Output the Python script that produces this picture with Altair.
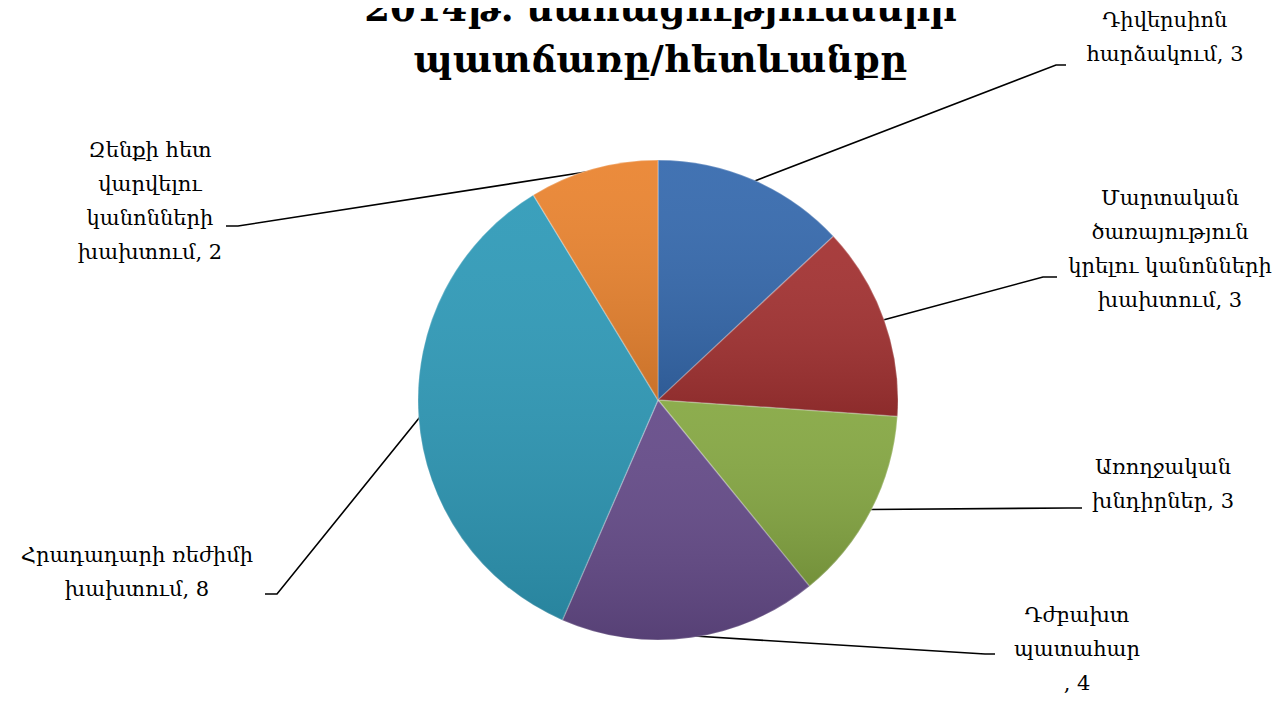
import math
import altair as alt
import pandas as pd

# ---- data ----
title_lines = ["2014թ. մահացությունների", "պատճառը/հետևանքը"]
categories = [
    "Դիվերսիոն հարձակում",
    "Մարտական ծառայություն կրելու կանոնների խախտում",
    "Առողջական խնդիրներ",
    "Դժբախտ պատահար",
    "Հրադադարի ռեժիմի խախտում",
    "Զենքի հետ վարվելու կանոնների խախտում",
]
values = [3, 3, 3, 4, 8, 2]
# how each category name is wrapped (last line gets ", value")
category_lines = [
    ["Դիվերսիոն", "հարձակում"],
    ["Մարտական", "ծառայություն", "կրելու կանոնների", "խախտում"],
    ["Առողջական", "խնդիրներ"],
    ["Դժբախտ", "պատահար", ""],
    ["Հրադադարի ռեժիմի", "խախտում"],
    ["Զենքի հետ", "վարվելու", "կանոնների", "խախտում"],
]
colors = ["#366AAE", "#A33232", "#86A843", "#654B89", "#2F9AB8", "#EA8430"]

# ---- layout (page pixels) ----
W, H = 1271, 688
CX, CY, R = 658, 400, 240
# centre x and y of the first line of each label
label_pos = [(1165, 21), (1170, 199), (1163, 468), (1077, 616), (137, 556), (150, 151)]
elbows = [[(1056, 65), (1066, 65)],
          [(1043, 277), (1057, 277)],
          [(1068, 508), (1082, 508)],
          [(985, 654), (995, 654)],
          [(277, 594), (265, 594)],
          [(238, 226), (226, 226)]]

total = sum(values)
pie = pd.DataFrame({"category": categories, "value": values,
                    "idx": list(range(len(values)))})

labels, lines = [], []
cum = 0
for i, (cat, v) in enumerate(zip(categories, values)):
    mid = (cum + v / 2) / total * 2 * math.pi
    cum += v
    parts = list(category_lines[i])
    parts[-1] = (parts[-1] + ", " + str(v)) if parts[-1] else ", " + str(v)
    lx, ly = label_pos[i]
    labels.append({"category": cat, "text": parts, "x": lx, "y": ly})
    sx = CX + (R - 2) * math.sin(mid)
    sy = CY - (R - 2) * math.cos(mid)
    pts = [(sx, sy)] + elbows[i]
    for k, (px, py) in enumerate(pts):
        lines.append({"category": cat, "k": k, "x": px, "y": py})

labels_df = pd.DataFrame(labels)
lines_df = pd.DataFrame(lines)

xs = alt.Scale(domain=[8, 8 + W], nice=False, zero=False)
ys = alt.Scale(domain=[8, 8 + H], nice=False, zero=False, reverse=True)

theta = alt.Theta("value:Q", stack=True)
order = alt.Order("idx:Q")

arcs = alt.Chart(pie).mark_arc(
    radius=R, stroke="#ffffff", strokeOpacity=0.25, strokeWidth=1.5
).encode(
    theta=theta,
    order=order,
    color=alt.Color("category:N", scale=alt.Scale(domain=categories, range=colors), legend=None),
    x=alt.value(CX - 8),
    y=alt.value(CY - 8),
)

shade = alt.Chart(pie).mark_arc(
    radius=R,
    fill=alt.Gradient(
        gradient="linear",
        stops=[alt.GradientStop(color="rgba(255,255,255,0.06)", offset=0),
               alt.GradientStop(color="rgba(0,0,0,0.14)", offset=1)],
        x1=0, x2=0, y1=0, y2=1,
    ),
).encode(theta=theta, order=order, x=alt.value(CX - 8), y=alt.value(CY - 8))

leaders = alt.Chart(lines_df).mark_line(color="#000000", strokeWidth=1.6).encode(
    x=alt.X("x:Q", scale=xs, axis=None),
    y=alt.Y("y:Q", scale=ys, axis=None),
    detail="category:N",
    order="k:Q",
)

text = alt.Chart(labels_df).mark_text(
    font="DejaVu Serif", fontSize=21, lineHeight=34, align="center",
    baseline="middle", color="#000000",
).encode(
    x=alt.X("x:Q", scale=xs, axis=None),
    y=alt.Y("y:Q", scale=ys, axis=None),
    text="text",
)

chart = alt.layer(leaders, arcs, shade, text).properties(
    width=W, height=H,
    autosize=alt.AutoSizeParams(type="none"),
    padding=0,
    title=alt.TitleParams(
        text=title_lines, font="DejaVu Serif", fontSize=37, fontWeight="bold",
        color="#000000", anchor="middle", frame="group", offset=0,
        lineHeight=51, dx=17, dy=72,
    ),
).configure_view(stroke=None)

chart.save("out.html", embed_options={"renderer": "svg", "actions": False})
